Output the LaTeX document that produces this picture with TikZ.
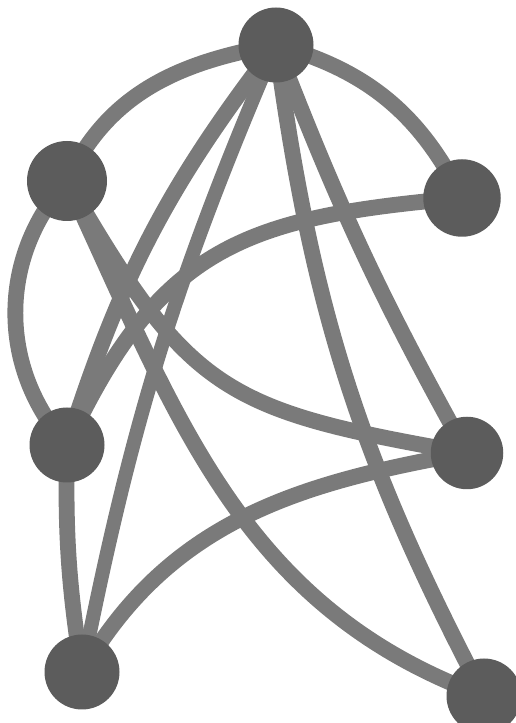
\documentclass[tikz,border=0pt]{standalone}
\usetikzlibrary{backgrounds}
\definecolor{inkgray}{RGB}{122,122,122}
\definecolor{blobgray}{RGB}{92,92,92}

\begin{document}
\begin{tikzpicture}[blob/.style={circle, fill=blobgray, minimum size=1.5cm, inner sep=0pt}, ink/.style={draw=inkgray, line width=9pt}]

\useasboundingbox (0,0) rectangle (10.30,14.46);

\node[blob] (top) at (5.52,13.56) {};

\node[blob, minimum size=1.6cm] (upleft) at (1.34,10.84) {};

\node[blob, minimum size=1.55cm] (upright) at (9.24,10.50) {};

\node[blob] (midleft) at (1.34,5.56) {};

\node[blob, minimum size=1.45cm] (midright) at (9.34,5.40) {};

\node[blob] (lowleft) at (1.64,1.02) {};

\node[blob] (lowright) at (9.68,0.54) {};

\begin{scope}[on background layer]
\draw[ink] (upleft.center) to[out=65, in=190] (top.center);
\draw[ink] (top.center) to[bend left=24] (upright.center);
\draw[ink] (top.center) to[bend right=10] (midleft.center);
\draw[ink, line width=8pt] (top.center) to[bend right=6] (lowleft.center);
\draw[ink] (top.center) to[bend right=4] (midright.center);
\draw[ink] (top.center) to[bend right=10] (lowright.center);
\draw[ink] (upleft.center) to[bend right=42] (midleft.center);
\draw[ink] (upleft.center) to[out=-60, in=170, looseness=1.3] (midright.center);
\draw[ink] (upleft.center) to[out=-65, in=160] (lowright.center);
\draw[ink] (midleft.center) to[out=65, in=-175, looseness=1.2] (upright.center);
\draw[ink] (midleft.center) to[bend right=5] (lowleft.center);
\draw[ink] (lowleft.center) to[out=60, in=190] (midright.center);
\end{scope}

\end{tikzpicture}
\end{document}
